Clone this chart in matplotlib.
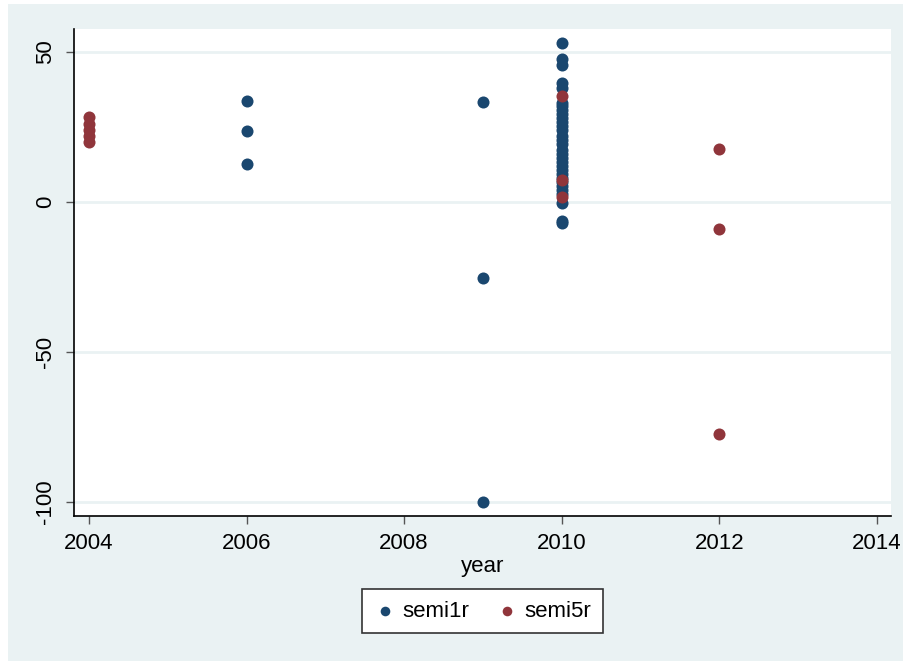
import matplotlib
import matplotlib.pyplot as plt
from matplotlib.patches import Rectangle
matplotlib.use('Agg')

# observations per year for each series
semi1r_year = [2006, 2006, 2006, 2009, 2009, 2009] + [2010] * 31
semi1r = [33.7, 23.7, 12.7, 33.3, -25.3, -100.0,
          53.0, 47.7, 45.7, 39.7, 38.0, 33.0, 32.0, 30.7, 29.3, 28.0,
          26.7, 25.3, 24.0, 22.0, 20.7, 19.3, 17.3, 16.0, 14.7, 13.3,
          12.0, 10.7, 9.3, 8.0, 6.7, 5.3, 4.0, 2.7, -0.3, -6.3, -7.0]

semi5r_year = [2004] * 5 + [2010] * 3 + [2012] * 3
semi5r = [28.5, 26.0, 24.0, 22.0, 20.0,
          35.3, 7.3, 1.7,
          17.7, -9.0, -77.3]

x_ticks = [2004, 2006, 2008, 2010, 2012, 2014]
y_ticks = [-100, -50, 0, 50]

BLUE = "#1a476f"
RED = "#90353b"
BG = "#eaf2f3"


def main():
    plt.rcParams['font.family'] = ['Liberation Sans', 'DejaVu Sans']
    fig = plt.figure(figsize=(9.04, 6.61), dpi=100)
    fig.patch.set_facecolor("white")
    fig.add_artist(Rectangle((8 / 904, 0), 1, 1 - 4 / 661,
                             transform=fig.transFigure, facecolor=BG,
                             edgecolor="none", zorder=0))

    ax = fig.add_axes([0.0824, 0.2194, 0.9032, 0.7367])
    ax.set_facecolor("white")
    ax.set_zorder(1)

    for y in y_ticks:
        ax.axhline(y, color=BG, linewidth=2, zorder=1)

    ax.scatter(semi1r_year, semi1r, s=75, color=BLUE, linewidths=0,
               zorder=3, label="semi1r")
    ax.scatter(semi5r_year, semi5r, s=75, color=RED, linewidths=0,
               zorder=4, label="semi5r")

    ax.set_xlim(2003.816, 2014.18)
    ax.set_ylim(-104.67, 57.7)
    ax.set_xticks(x_ticks)
    ax.set_yticks(y_ticks)
    ax.set_yticklabels([str(v) for v in y_ticks], rotation=90, va="center")
    ax.tick_params(length=6, width=1, color="#555555", labelsize=16, pad=6)
    ax.tick_params(axis="y", pad=7)

    for side in ("top", "right"):
        ax.spines[side].set_visible(False)
    for side in ("left", "bottom"):
        ax.spines[side].set_color("black")
        ax.spines[side].set_linewidth(1.2)

    ax.set_xlabel("year", fontsize=16, labelpad=2)

    leg = fig.legend(loc="center", bbox_to_anchor=(0.5337, 0.0756), ncol=2,
                     fontsize=16, frameon=True, fancybox=False,
                     edgecolor="#333333", framealpha=1, handletextpad=0.3,
                     columnspacing=1.2, borderpad=0.5, handlelength=1.0,
                     markerscale=0.8)
    leg.get_frame().set_linewidth(1.2)

    fig.savefig("out.png", dpi=100)


if __name__ == "__main__":
    main()
